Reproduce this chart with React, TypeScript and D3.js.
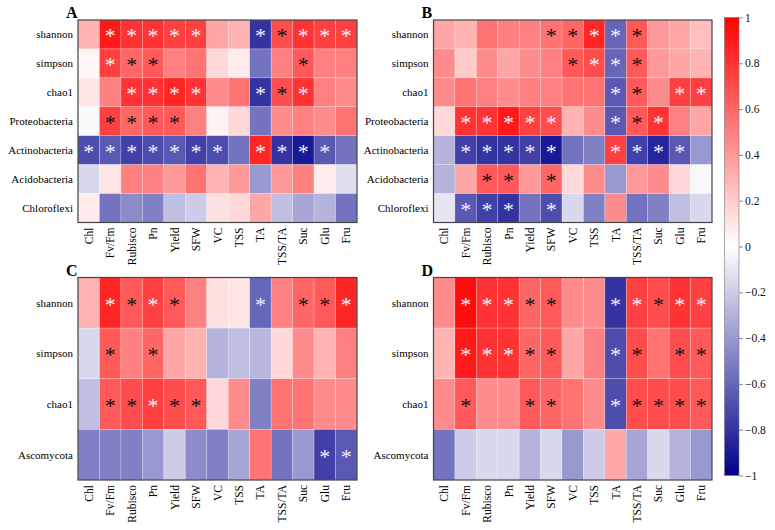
import React, { useEffect, useRef } from 'react';
import * as d3 from 'd3';

const cols = ['Chl', 'Fv/Fm', 'Rubisco', 'Pn', 'Yield', 'SFW', 'VC', 'TSS', 'TA', 'TSS/TA', 'Suc', 'Glu', 'Fru'];
const bactRows = ['shannon', 'simpson', 'chao1', 'Proteobacteria', 'Actinobacteria', 'Acidobacteria', 'Chloroflexi'];
const fungRows = ['shannon', 'simpson', 'chao1', 'Ascomycota'];

// correlation values, one row per taxon / index
const valuesA = [
  [0.3, 0.9, 0.8, 0.8, 0.75, 0.75, 0.35, 0.3, -0.8, 0.7, 0.8, 0.75, 0.75],
  [0.03, 0.75, 0.6, 0.65, 0.5, 0.55, 0.15, 0.08, -0.55, 0.5, 0.65, 0.5, 0.5],
  [0.1, 0.5, 0.8, 0.8, 0.85, 0.8, 0.45, 0.55, -0.8, 0.7, 0.8, 0.5, 0.45],
  [-0.02, 0.75, 0.6, 0.65, 0.65, 0.5, 0.05, 0.15, -0.55, 0.45, 0.5, 0.45, 0.55],
  [-0.7, -0.65, -0.75, -0.7, -0.65, -0.75, -0.7, -0.55, 0.85, -0.8, -0.9, -0.65, -0.55],
  [-0.15, 0.1, 0.5, 0.5, 0.4, 0.55, 0.3, 0.4, -0.4, 0.4, 0.5, 0.08, -0.12],
  [0.08, -0.55, -0.45, -0.5, -0.25, -0.2, 0.12, 0.15, 0.35, -0.25, -0.35, -0.3, -0.55],
];
const valuesB = [
  [0.35, 0.3, 0.55, 0.5, 0.5, 0.55, 0.6, 0.85, -0.6, 0.65, 0.4, 0.35, 0.25],
  [0.45, 0.2, 0.45, 0.35, 0.45, 0.5, 0.65, 0.7, -0.6, 0.65, 0.4, 0.35, 0.3],
  [0.45, 0.55, 0.5, 0.45, 0.5, 0.5, 0.55, 0.55, -0.65, 0.65, 0.45, 0.75, 0.75],
  [0.15, 0.8, 0.8, 0.9, 0.75, 0.7, 0.3, 0.45, -0.65, 0.65, 0.8, 0.5, 0.35],
  [-0.3, -0.75, -0.8, -0.8, -0.75, -0.9, -0.55, -0.5, 0.75, -0.75, -0.85, -0.65, -0.4],
  [-0.3, 0.35, 0.65, 0.65, 0.4, 0.6, 0.15, 0.45, -0.4, 0.4, 0.45, 0.15, -0.03],
  [-0.1, -0.65, -0.75, -0.8, -0.55, -0.7, -0.15, -0.5, 0.45, -0.55, -0.5, -0.25, -0.15],
];
const valuesC = [
  [0.3, 0.85, 0.65, 0.75, 0.65, 0.5, 0.12, 0.1, -0.6, 0.5, 0.6, 0.65, 0.85],
  [-0.15, 0.65, 0.5, 0.6, 0.35, 0.3, -0.3, -0.25, -0.28, 0.15, 0.45, 0.3, 0.5],
  [-0.25, 0.65, 0.7, 0.75, 0.7, 0.65, 0.15, 0.45, -0.5, 0.55, 0.55, 0.45, 0.45],
  [-0.5, -0.5, -0.5, -0.4, -0.2, -0.45, -0.5, -0.35, 0.55, -0.55, -0.4, -0.75, -0.65],
];
const valuesD = [
  [0.45, 0.95, 0.8, 0.8, 0.6, 0.65, 0.45, 0.45, -0.8, 0.75, 0.7, 0.8, 0.75],
  [0.3, 0.9, 0.8, 0.8, 0.6, 0.65, 0.35, 0.5, -0.7, 0.7, 0.55, 0.7, 0.65],
  [0.45, 0.65, 0.45, 0.45, 0.65, 0.6, 0.55, 0.45, -0.7, 0.7, 0.7, 0.7, 0.65],
  [-0.55, -0.2, -0.15, -0.15, -0.3, -0.15, -0.4, -0.2, 0.35, -0.35, -0.15, -0.3, -0.4],
];

// significance: 2 = white asterisk, 1 = black asterisk, 0 = none
const sigA = [
  [0, 2, 2, 2, 2, 2, 0, 0, 2, 1, 2, 2, 2],
  [0, 2, 1, 1, 0, 0, 0, 0, 0, 0, 1, 0, 0],
  [0, 0, 2, 2, 2, 2, 0, 0, 2, 1, 2, 0, 0],
  [0, 1, 1, 1, 1, 0, 0, 0, 0, 0, 0, 0, 0],
  [2, 2, 2, 2, 2, 2, 2, 0, 2, 2, 2, 2, 0],
  [0, 0, 0, 0, 0, 0, 0, 0, 0, 0, 0, 0, 0],
  [0, 0, 0, 0, 0, 0, 0, 0, 0, 0, 0, 0, 0],
];
const sigB = [
  [0, 0, 0, 0, 0, 1, 1, 2, 2, 1, 0, 0, 0],
  [0, 0, 0, 0, 0, 0, 1, 2, 2, 1, 0, 0, 0],
  [0, 0, 0, 0, 0, 0, 0, 0, 2, 1, 0, 2, 2],
  [0, 2, 2, 2, 2, 2, 0, 0, 2, 1, 2, 0, 0],
  [0, 2, 2, 2, 2, 2, 0, 0, 2, 2, 2, 2, 0],
  [0, 0, 1, 1, 0, 1, 0, 0, 0, 0, 0, 0, 0],
  [0, 2, 2, 2, 0, 2, 0, 0, 0, 0, 0, 0, 0],
];
const sigC = [
  [0, 2, 1, 2, 1, 0, 0, 0, 2, 0, 1, 1, 2],
  [0, 1, 0, 1, 0, 0, 0, 0, 0, 0, 0, 0, 0],
  [0, 1, 1, 2, 1, 1, 0, 0, 0, 0, 0, 0, 0],
  [0, 0, 0, 0, 0, 0, 0, 0, 0, 0, 0, 2, 2],
];
const sigD = [
  [0, 2, 2, 2, 1, 1, 0, 0, 2, 2, 1, 2, 2],
  [0, 2, 2, 2, 1, 1, 0, 0, 2, 1, 0, 1, 1],
  [0, 1, 0, 0, 1, 1, 0, 0, 2, 1, 1, 1, 1],
  [0, 0, 0, 0, 0, 0, 0, 0, 0, 0, 0, 0, 0],
];

const legendTicks = [1, 0.8, 0.6, 0.4, 0.2, 0, -0.2, -0.4, -0.6, -0.8, -1];

const FONT = '"Liberation Serif", "Times New Roman", serif';

const App = () => {
  const svgRef = useRef<SVGSVGElement>(null);

  useEffect(() => {
    const svg = d3.select(svgRef.current);
    svg.selectAll('*').remove();

    const color = d3.scaleLinear<string>()
      .domain([-1, 0, 1])
      .range(['#00008B', '#FFFFFF', '#FF0000']);

    const panels = [
      { label: 'A', rows: bactRows, values: valuesA, sig: sigA, x0: 78, x1: 357, y0: 20, y1: 222.5 },
      { label: 'B', rows: bactRows, values: valuesB, sig: sigB, x0: 433.5, x1: 712, y0: 20, y1: 222.5 },
      { label: 'C', rows: fungRows, values: valuesC, sig: sigC, x0: 78, x1: 357, y0: 277.5, y1: 480 },
      { label: 'D', rows: fungRows, values: valuesD, sig: sigD, x0: 433.5, x1: 712, y0: 277.5, y1: 480 },
    ];

    panels.forEach(p => {
      const x = d3.scaleBand().domain(cols).range([p.x0, p.x1]);
      const y = d3.scaleBand().domain(p.rows).range([p.y0, p.y1]);
      const g = svg.append('g');

      const cells = p.rows.flatMap((r, i) => cols.map((c, j) => ({
        row: r, col: c, v: p.values[i][j], s: p.sig[i][j],
      })));

      g.selectAll('rect.cell')
        .data(cells)
        .enter().append('rect')
        .attr('class', 'cell')
        .attr('x', d => x(d.col)!)
        .attr('y', d => y(d.row)!)
        .attr('width', x.bandwidth())
        .attr('height', y.bandwidth())
        .attr('fill', d => color(d.v))
        .attr('stroke', '#ffffff')
        .attr('stroke-opacity', 0.35)
        .attr('stroke-width', 0.6);

      g.selectAll('text.star')
        .data(cells.filter(d => d.s > 0))
        .enter().append('text')
        .attr('class', 'star')
        .attr('x', d => x(d.col)! + x.bandwidth() / 2)
        .attr('y', d => y(d.row)! + y.bandwidth() / 2 + 9)
        .attr('text-anchor', 'middle')
        .attr('font-family', FONT)
        .attr('font-size', 22)
        .attr('fill', d => d.s === 2 ? '#f4f0ff' : '#111111')
        .text('*');

      g.append('rect')
        .attr('x', p.x0)
        .attr('y', p.y0)
        .attr('width', p.x1 - p.x0)
        .attr('height', p.y1 - p.y0)
        .attr('fill', 'none')
        .attr('stroke', '#444')
        .attr('stroke-width', 1.2);

      g.selectAll('text.row')
        .data(p.rows)
        .enter().append('text')
        .attr('class', 'row')
        .attr('x', p.x0 - 5)
        .attr('y', d => y(d)! + y.bandwidth() / 2)
        .attr('dy', '0.35em')
        .attr('text-anchor', 'end')
        .attr('font-family', FONT)
        .attr('font-size', 11)
        .text(d => d);

      g.selectAll('text.col')
        .data(cols)
        .enter().append('text')
        .attr('class', 'col')
        .attr('transform', d => `translate(${x(d)! + x.bandwidth() / 2},${p.y1 + 5}) rotate(-90)`)
        .attr('dy', '0.35em')
        .attr('text-anchor', 'end')
        .attr('font-family', FONT)
        .attr('font-size', 11.5)
        .text(d => d);

      g.append('text')
        .attr('x', p.x0 - 12)
        .attr('y', p.y0 - 2)
        .attr('font-family', FONT)
        .attr('font-weight', 'bold')
        .attr('font-size', 16)
        .text(p.label);
    });

    // colour legend
    const lx = 724.5, lw = 14.5, ly0 = 17.5, ly1 = 475.5;
    const ly = d3.scaleLinear().domain([1, -1]).range([ly0, ly1]);
    const defs = svg.append('defs');
    const grad = defs.append('linearGradient')
      .attr('id', 'cbar')
      .attr('x1', 0).attr('y1', 0).attr('x2', 0).attr('y2', 1);
    [1, 0, -1].forEach(v => {
      grad.append('stop')
        .attr('offset', `${(1 - v) * 50}%`)
        .attr('stop-color', color(v));
    });
    svg.append('rect')
      .attr('x', lx)
      .attr('y', ly0)
      .attr('width', lw)
      .attr('height', ly1 - ly0)
      .attr('fill', 'url(#cbar)')
      .attr('stroke', '#777')
      .attr('stroke-width', 0.6);

    const axis = svg.append('g')
      .attr('transform', `translate(${lx + lw},0)`)
      .call(d3.axisRight(ly).tickValues(legendTicks).tickSize(4).tickFormat(d => d3.format('')(d as number).replace('-', '\u2212')));
    axis.select('.domain').remove();
    axis.selectAll('line').attr('stroke', '#888');
    axis.selectAll('text')
      .attr('font-family', FONT)
      .attr('font-size', 11.5)
      .attr('fill', '#111')
      .attr('x', 6);
  }, []);

  return (
    <svg ref={svgRef} width={775} height={530}
      style={{ position: 'absolute', left: 0, top: 0, background: '#fff' }} />
  );
};

export default App;
